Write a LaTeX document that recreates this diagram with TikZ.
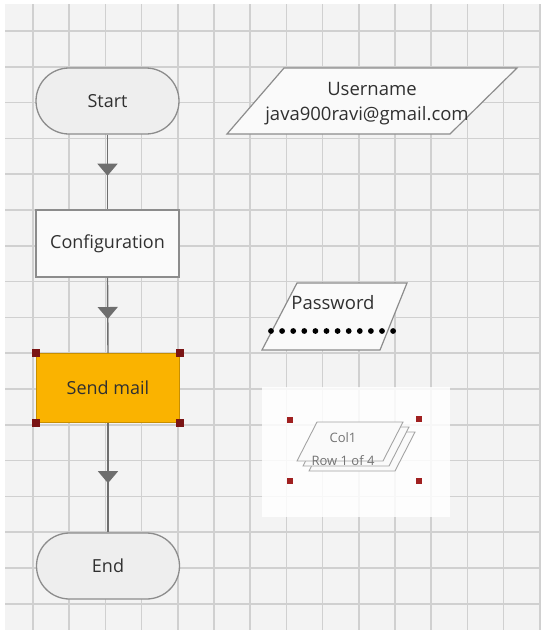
\documentclass[tikz,border=0pt]{standalone}
\usepackage{fontspec}
\setmainfont{Open Sans}
\usetikzlibrary{arrows.meta,decorations.markings,shapes.misc,calc}
\definecolor{bggray}{HTML}{F3F3F3}
\definecolor{gridc}{HTML}{D0D0D0}
\definecolor{edgec}{HTML}{8C8C8C}
\definecolor{linec}{HTML}{6E6E6E}
\definecolor{textc}{HTML}{303030}
\definecolor{termfill}{HTML}{EEEEEE}
\definecolor{boxfill}{HTML}{FAFAFA}
\definecolor{sendfill}{HTML}{FAB300}
\definecolor{handlec}{HTML}{7A1414}
\definecolor{dotred}{HTML}{A02020}
\tikzset{
  terminal/.style={rounded rectangle, draw=edgec, line width=1.3pt, fill=termfill,
    minimum width=143pt, minimum height=66pt, inner sep=0pt, text=textc, font=\fontsize{18}{20}\selectfont},
  procbox/.style={rectangle, draw=edgec, line width=1.3pt, fill=boxfill,
    minimum width=143pt, minimum height=67pt, inner sep=0pt, text=textc, font=\fontsize{18}{20}\selectfont},
  flow/.style={draw=linec, line width=1.4pt, postaction={decorate},
    decoration={markings, mark=at position 0.55 with {\arrow{Triangle[width=20pt,length=12pt]}}}},
  para/.style={draw=edgec, line width=1.2pt, fill=boxfill},
  lbl/.style={text=textc, inner sep=0pt, font=\fontsize{18.5}{20}\selectfont},
  handle/.style={fill=handlec, draw=none},
  reddot/.style={fill=dotred, draw=none},
}
\begin{document}
\begin{tikzpicture}[x=1pt,y=-1pt]
\useasboundingbox (0,0) rectangle (541,630);
\fill[white] (0,0) rectangle (541,630);
\fill[bggray] (5,4) rectangle (541,630);
% grid
\foreach \i in {0,...,14} {
  \draw[gridc, line width=1.6pt] ({33+36.2*\i},4) -- ({33+36.2*\i},630);
}
\foreach \j in {0,...,16} {
  \draw[gridc, line width=1.6pt] (5,{31+35.8*\j}) -- (541,{31+35.8*\j});
}
% white panel round Col1
\fill[white, opacity=0.85] (262,387) rectangle (450,517);

% flow nodes
\node[terminal] (start) at (107.5,101) {Start};
\node[procbox] (config) at (107.5,243.5) {Configuration};
\node[procbox, fill=sendfill, draw=sendfill!80!black, minimum height=69pt] (send) at (108,388) {Send mail};
\node[terminal] (end) at (108,566) {End};

\draw[flow] (start.south) -- (config.north);
\draw[flow] (config.south) -- (send.north);
\draw[flow] (send.south) -- (end.north);

% selection handles on Send mail
\foreach \c in {north west, north east, south west, south east} {
  \fill[handle] ($(send.\c)+(-4,-4)$) rectangle ($(send.\c)+(4,4)$);
}

% Username parallelogram
\draw[para] (227,134) -- (284,68) -- (517,68) -- (450,134) -- cycle;
\node[lbl] (user) at (372,89) {Username};
\node[lbl] (mail) at (367,116) {java900ravi@gmail.com};

% Password parallelogram
\draw[para] (262,350) -- (297,283) -- (407,283) -- (380,350) -- cycle;
\node[lbl] (pw) at (333,303) {Password};
\foreach \k in {0,...,11} {
  \fill[black] ({271+11.1*\k},331) circle (2.9pt);
}

% Col1 stacked parallelograms
\draw[para, line width=0.9pt, draw=edgec!80] (309,471) -- (329,432) -- (415,432) -- (395,471) -- cycle;
\draw[para, line width=0.9pt, draw=edgec!80] (303,466) -- (323,427) -- (409,427) -- (389,466) -- cycle;
\draw[para, line width=0.9pt, draw=edgec!80] (297,461) -- (317,422) -- (403,422) -- (383,461) -- cycle;
\node[lbl, text=gray!90!black, font=\fontsize{13}{15}\selectfont] (col) at (343,438) {Col1};
\node[lbl, text=gray!90!black, font=\fontsize{13}{15}\selectfont] (row) at (343,461) {Row 1 of 4};
\foreach \p in {(290,420),(419,419),(290,481),(419,481)} {
  \fill[reddot] \p ++(-3,-3) rectangle ++(6,6);
}
\end{tikzpicture}
\end{document}
